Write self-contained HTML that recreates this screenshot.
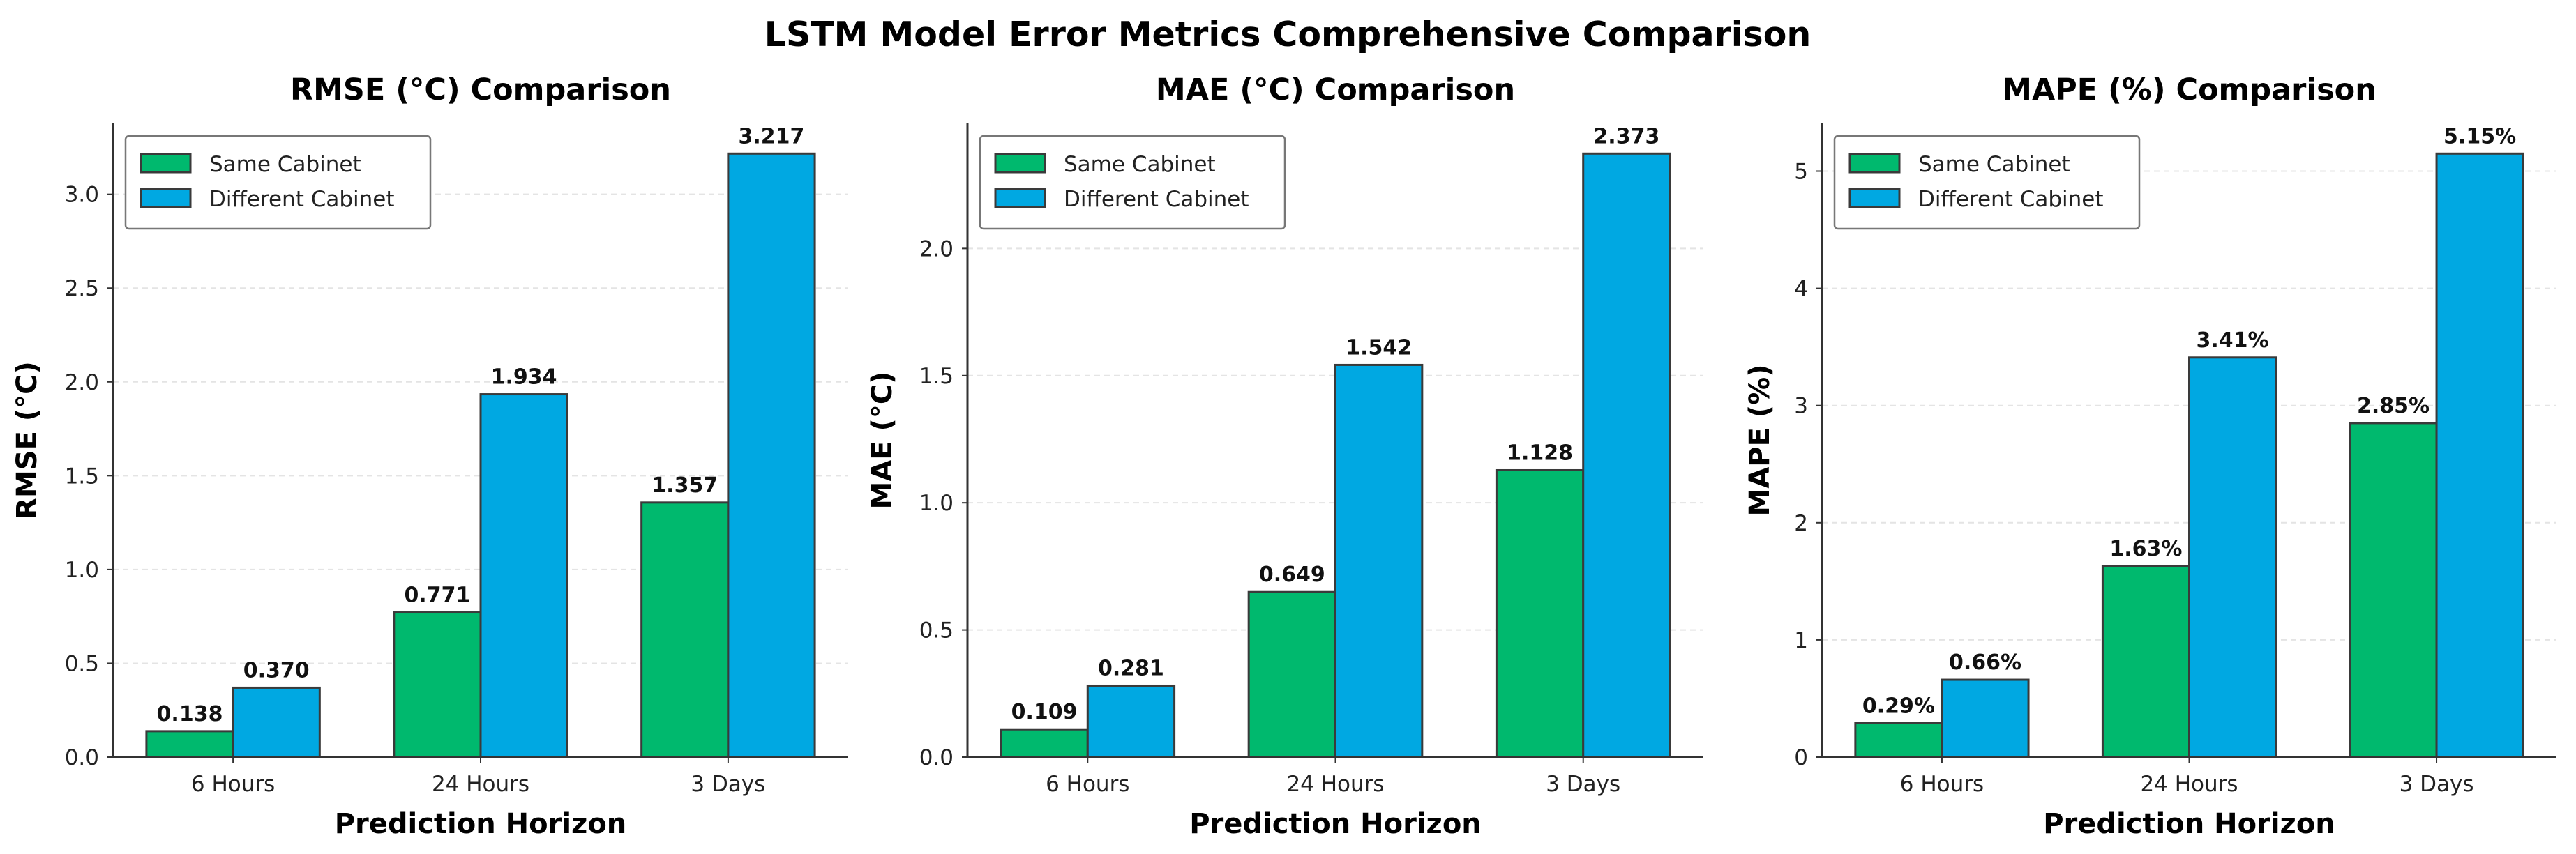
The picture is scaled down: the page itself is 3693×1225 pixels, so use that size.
<!DOCTYPE html>
<html><head><meta charset="utf-8"><style>
html,body{margin:0;padding:0;background:#fff;}
svg{display:block;font-family:"DejaVu Sans","Liberation Sans",sans-serif;}
</style></head><body>
<svg id="chart" width="3693" height="1225" viewBox="0 0 3693 1225" xmlns="http://www.w3.org/2000/svg">
<rect width="3693" height="1225" fill="#fff"/>
<text x="1846" y="66" text-anchor="middle" font-size="49" font-weight="bold" fill="#000">LSTM Model Error Metrics Comprehensive Comparison</text>
</svg>
<script>
const categories = ["6 Hours", "24 Hours", "3 Days"];
const seriesNames = ["Same Cabinet", "Different Cabinet"];
const rmseSame = [0.138, 0.771, 1.357];
const rmseDiff = [0.370, 1.934, 3.217];
const maeSame = [0.109, 0.649, 1.128];
const maeDiff = [0.281, 1.542, 2.373];
const mapeSame = [0.29, 1.63, 2.85];
const mapeDiff = [0.66, 3.41, 5.15];
const rmseTicks = [0, 0.5, 1.0, 1.5, 2.0, 2.5, 3.0];
const maeTicks = [0, 0.5, 1.0, 1.5, 2.0];
const mapeTicks = [0, 1, 2, 3, 4, 5];

const NS = "http://www.w3.org/2000/svg";
const svg = document.getElementById("chart");
function mk(tag, attrs, parent, text) {
  const e = document.createElementNS(NS, tag);
  for (const k in attrs) e.setAttribute(k, attrs[k]);
  if (text !== undefined) e.textContent = text;
  (parent || svg).appendChild(e);
  return e;
}
const colors = ["#00b96e", "#00a8e2"];
const panels = [
  {key: "rmse", title: "RMSE (°C) Comparison", ylabel: "RMSE (°C)", same: rmseSame, diff: rmseDiff, ticks: rmseTicks, tfmt: v => v.toFixed(1), vfmt: v => v.toFixed(3), left: 162, right: 1216, ylx: 38},
  {key: "mae", title: "MAE (°C) Comparison", ylabel: "MAE (°C)", same: maeSame, diff: maeDiff, ticks: maeTicks, tfmt: v => v.toFixed(1), vfmt: v => v.toFixed(3), left: 1387, right: 2442, ylx: 1264},
  {key: "mape", title: "MAPE (%) Comparison", ylabel: "MAPE (%)", same: mapeSame, diff: mapeDiff, ticks: mapeTicks, tfmt: v => String(v), vfmt: v => v.toFixed(2) + "%", left: 2612, right: 3665, ylx: 2522}
];
const plotTop = 177, plotBottom = 1086, barW = 0.35;
panels.forEach(p => {
  const g = mk("g", {});
  
  
  const ymax = Math.max(...p.same, ...p.diff) * 1.05;
  const y = v => plotBottom - v / ymax * (plotBottom - plotTop);
  const x = v => p.left + (v + 0.485) / 2.97 * (p.right - p.left);
  p.ticks.forEach(t => {
    const gl = mk("line", {x1: p.left, x2: p.right, y1: y(t), y2: y(t), stroke: "#e4e4e4", "stroke-width": 2, "stroke-dasharray": "8,6"}, g);
    
    
    mk("line", {x1: p.left - 8, x2: p.left, y1: y(t), y2: y(t), stroke: "#333", "stroke-width": 2}, g);
    const tl = mk("text", {x: p.left - 20, y: y(t) + 11, "text-anchor": "end", "font-size": 31, fill: "#222"}, g, p.tfmt(t));
    
    
  });
  categories.forEach((c, i) => {
    [p.same, p.diff].forEach((arr, s) => {
      const x0 = x(i + (s === 0 ? -barW : 0));
      const x1 = x(i + (s === 0 ? 0 : barW));
      const b = mk("rect", {x: x0, y: y(arr[i]), width: x1 - x0, height: plotBottom - y(arr[i]), fill: colors[s], stroke: "#3a3a3a", "stroke-width": 3}, g);
      
      
      const vl = mk("text", {x: (x0 + x1) / 2, y: y(arr[i]) - 15, "text-anchor": "middle", "font-size": 30, "font-weight": "bold", fill: "#111"}, g, p.vfmt(arr[i]));
      
      
    });
    mk("line", {x1: x(i), x2: x(i), y1: plotBottom, y2: plotBottom + 8, stroke: "#333", "stroke-width": 2}, g);
    const xl = mk("text", {x: x(i), y: 1135, "text-anchor": "middle", "font-size": 31, fill: "#222"}, g, c);
    
    
  });
  mk("line", {x1: p.left, x2: p.left, y1: plotTop, y2: plotBottom, stroke: "#333", "stroke-width": 3}, g);
  mk("line", {x1: p.left, x2: p.right, y1: plotBottom, y2: plotBottom, stroke: "#333", "stroke-width": 3}, g);
  const cx = (p.left + p.right) / 2;
  const st = mk("text", {x: cx, y: 143, "text-anchor": "middle", "font-size": 43, "font-weight": "bold", fill: "#000"}, g, p.title);
  
  
  const xt = mk("text", {x: cx, y: 1195, "text-anchor": "middle", "font-size": 40, "font-weight": "bold", fill: "#000"}, g, "Prediction Horizon");
  
  
  const yt = mk("text", {x: 0, y: 0, transform: "translate(" + (p.ylx + 14) + "," + ((plotTop + plotBottom) / 2) + ") rotate(-90)", "text-anchor": "middle", "font-size": 40, "font-weight": "bold", fill: "#000"}, g, p.ylabel);
  
  
  const lg = mk("g", {}, g);
  
  
  const lx = p.left + 18;
  mk("rect", {x: lx, y: 195, width: 437, height: 133, rx: 5, fill: "#fff", stroke: "#777", "stroke-width": 2.5}, lg);
  seriesNames.forEach((n, s) => {
    const e = mk("g", {}, lg);
    
    
    mk("rect", {x: lx + 22, y: 221 + s * 50, width: 71, height: 26, fill: colors[s], stroke: "#3a3a3a", "stroke-width": 3}, e);
    mk("text", {x: lx + 120, y: 246 + s * 50, "font-size": 31, fill: "#222"}, e, n);
  });
});
</script>
</body></html>
